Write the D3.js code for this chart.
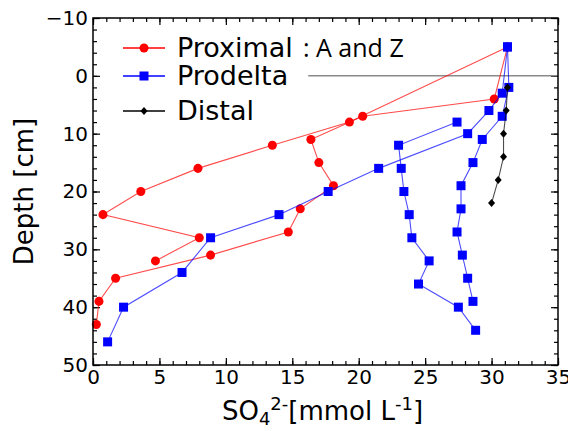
<!DOCTYPE html>
<html>
<head>
<meta charset="utf-8">
<script src="https://cdn.jsdelivr.net/npm/d3@7"></script>
<style>
  body { margin: 0; background: white; }
  text { font-family: "DejaVu Sans", sans-serif; }
</style>
</head>
<body>
<div id="chart"></div>
<script>
// SO4 (mmol/L) and depth (cm) of every profile
const proximalA_so4 = [31.2, 19.3, 13.5, 7.9, 3.6, 0.75, 8.0, 4.7];
const proximalA_depth = [-5, 8, 12, 16, 20, 24, 28, 32];
const proximalZ_so4 = [31.2, 30.2, 20.3, 16.4, 17.0, 18.1, 15.6, 14.7, 8.85, 1.7, 0.45, 0.25];
const proximalZ_depth = [-5, 4, 7, 11, 15, 19, 23, 27, 31, 35, 39, 43];

const prodelta1_so4 = [31.2, 30.8, 29.8, 28.2, 21.5, 17.7, 14.0, 8.85, 6.7, 2.3, 1.1];
const prodelta1_depth = [-5, 3, 6, 10, 16, 20, 24, 28, 34, 40, 46];
const prodelta2_so4 = [27.4, 23.0, 23.2, 23.4, 23.8, 24.0, 25.3, 24.5, 27.5, 28.8];
const prodelta2_depth = [8, 12, 16, 20, 24, 28, 32, 36, 40, 44];
const prodelta3_so4 = [31.2, 31.3, 30.8, 29.3, 28.6, 27.7, 27.7, 27.4, 27.8, 28.2, 28.6];
const prodelta3_depth = [-5, 2, 7, 11, 15, 19, 23, 27, 31, 35, 39];

const distal_so4 = [31.2, 31.1, 30.9, 30.9, 30.5, 30.0];
const distal_depth = [2, 6, 10, 14, 18, 22];

// sediment-water interface line
const interfaceSo4 = [16.2, 35];
const interfaceDepth = 0;

const xTicks = [0, 5, 10, 15, 20, 25, 30, 35];
const yTicks = [-10, 0, 10, 20, 30, 40, 50];

const legendLabels = ["Proximal", "Prodelta", "Distal"];

// set the dimensions and margins of the graph
const margin = {top: 18, right: 10, bottom: 66, left: 93};
const width = 568 - margin.left - margin.right;
const height = 431 - margin.top - margin.bottom;

const svg = d3.select("#chart")
  .append("svg")
    .attr("width", 568)
    .attr("height", 431)
  .append("g")
    .attr("transform", `translate(${margin.left},${margin.top})`);

const x = d3.scaleLinear().domain([0, 35]).range([0, width]);
const y = d3.scaleLinear().domain([-10, 50]).range([0, height]);

const zip = (a, b) => a.map((v, i) => [v, b[i]]);

// axes, ticks pointing inward on all four sides
const xMinor = d3.range(0, 36, 1);
const yMinor = d3.range(-10, 51, 2);

function styleAxis(g) {
  g.select(".domain").remove();
  g.selectAll("line").attr("stroke", "#000").attr("stroke-width", 1.2);
  g.selectAll("text").style("font-size", "20px").attr("fill", "#000");
}

svg.append("g")
  .attr("transform", `translate(0,${height})`)
  .call(d3.axisBottom(x).tickValues(xTicks).tickSizeInner(-7).tickSizeOuter(0).tickPadding(5))
  .call(styleAxis);
svg.append("g")
  .attr("transform", `translate(0,${height})`)
  .call(d3.axisBottom(x).tickValues(xMinor).tickFormat("").tickSizeInner(-4).tickSizeOuter(0))
  .call(styleAxis);
svg.append("g")
  .call(d3.axisTop(x).tickValues(xTicks).tickFormat("").tickSizeInner(-7).tickSizeOuter(0))
  .call(styleAxis);
svg.append("g")
  .call(d3.axisTop(x).tickValues(xMinor).tickFormat("").tickSizeInner(-4).tickSizeOuter(0))
  .call(styleAxis);

svg.append("g")
  .call(d3.axisLeft(y).tickValues(yTicks).tickSizeInner(-7).tickSizeOuter(0).tickPadding(5))
  .call(styleAxis);
svg.append("g")
  .call(d3.axisLeft(y).tickValues(yMinor).tickFormat("").tickSizeInner(-4).tickSizeOuter(0))
  .call(styleAxis);
svg.append("g")
  .attr("transform", `translate(${width},0)`)
  .call(d3.axisRight(y).tickValues(yTicks).tickFormat("").tickSizeInner(-7).tickSizeOuter(0))
  .call(styleAxis);
svg.append("g")
  .attr("transform", `translate(${width},0)`)
  .call(d3.axisRight(y).tickValues(yMinor).tickFormat("").tickSizeInner(-4).tickSizeOuter(0))
  .call(styleAxis);

// interface line
svg.append("line")
  .attr("x1", x(interfaceSo4[0]))
  .attr("x2", x(interfaceSo4[1]))
  .attr("y1", y(interfaceDepth))
  .attr("y2", y(interfaceDepth))
  .attr("stroke", "#8a8a8a")
  .attr("stroke-width", 1.5);

const line = d3.line().x(d => x(d[0])).y(d => y(d[1]));

function drawProfile(data, color, marker) {
  svg.append("path")
    .datum(data)
    .attr("fill", "none")
    .attr("stroke", color)
    .attr("stroke-opacity", 0.7)
    .attr("stroke-width", 1.1)
    .attr("d", line);
  svg.selectAll(null)
    .data(data)
    .join("path")
      .attr("transform", d => `translate(${x(d[0])},${y(d[1])})`)
      .attr("d", marker)
      .attr("fill", color);
}

const circle = d3.symbol(d3.symbolCircle, 64)();
const square = "M-4.5,-4.5H4.5V4.5H-4.5Z";
const diamond = "M0,-4L3.5,0L0,4L-3.5,0Z";

drawProfile(zip(proximalA_so4, proximalA_depth), "#ff0000", circle);
drawProfile(zip(proximalZ_so4, proximalZ_depth), "#ff0000", circle);
drawProfile(zip(prodelta1_so4, prodelta1_depth), "#0000ff", square);
drawProfile(zip(prodelta2_so4, prodelta2_depth), "#0000ff", square);
drawProfile(zip(prodelta3_so4, prodelta3_depth), "#0000ff", square);
drawProfile(zip(distal_so4, distal_depth), "#000000", diamond);

// frame
svg.append("rect")
  .attr("width", width)
  .attr("height", height)
  .attr("fill", "none")
  .attr("stroke", "#000")
  .attr("stroke-width", 1.5);

// legend
const legendColors = ["#ff0000", "#0000ff", "#000000"];
const legendMarkers = [circle, square, diamond];
const legendY = [30, 58, 93];
const legend = svg.append("g").attr("transform", "translate(30,0)");
legendLabels.forEach((lab, i) => {
  const g = legend.append("g").attr("transform", `translate(0,${legendY[i]})`);
  g.append("line").attr("x1", 0).attr("x2", 42).attr("stroke", legendColors[i]).attr("stroke-width", 1.5);
  g.append("path").attr("transform", "translate(21,0)").attr("d", legendMarkers[i]).attr("fill", legendColors[i]);
  g.append("text")
    .attr("x", 54)
    .attr("y", 9)
    .style("font-size", "27px")
    .attr("fill", "#000")
    .text(lab);
});
legend.append("text")
  .attr("x", 180)
  .attr("y", legendY[0] + 9)
  .style("font-family", "'Open Sans', sans-serif")
  .style("font-size", "25px")
  .attr("fill", "#000")
  .text(": A and Z");

// axis titles
svg.append("text")
  .attr("transform", `translate(-60,${height / 2}) rotate(-90)`)
  .attr("text-anchor", "middle")
  .style("font-size", "26px")
  .text("Depth [cm]");

const xl = svg.append("text")
  .attr("x", width / 2 - 3)
  .attr("y", height + 55)
  .attr("text-anchor", "middle")
  .style("font-size", "26px");
xl.append("tspan").text("SO");
xl.append("tspan").attr("dy", 5).style("font-size", "18px").text("4");
xl.append("tspan").attr("dy", -15).style("font-size", "18px").text("2-");
xl.append("tspan").attr("dy", 10).text("[mmol L");
xl.append("tspan").attr("dy", -10).style("font-size", "18px").text("-1");
xl.append("tspan").attr("dy", 10).text("]");
</script>
</body>
</html>
